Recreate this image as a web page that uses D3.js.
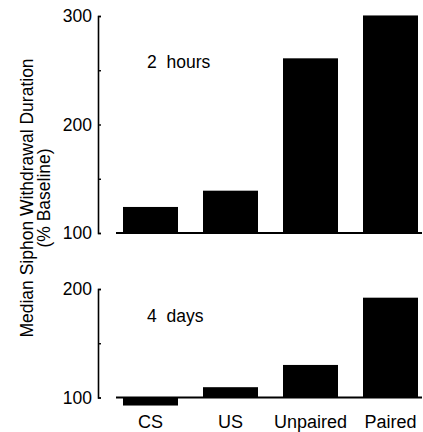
<!DOCTYPE html>
<html>
<head>
<meta charset="utf-8">
<script src="https://cdn.jsdelivr.net/npm/d3@7"></script>
<style>
  html, body { margin: 0; padding: 0; background: #fff; }
  svg { display: block; }
  text { font-family: "Liberation Sans", Arial, sans-serif; fill: #000; }
</style>
</head>
<body>
<svg id="chart" width="423" height="432"></svg>
<script>
// ---- data ----
const categories = ["CS", "US", "Unpaired", "Paired"];
const hours2Values = [124, 139, 261, 300.5];
const days4Values = [92.6, 109.5, 130, 192];
const hours2Ticks = [100, 150, 200, 250, 300];
const days4Ticks = [100, 150, 200];
const majorTickLabels = [100, 200, 300];
const panelTitles = ["2 hours", "4 days"];
const yAxisTitle = ["Median Siphon Withdrawal Duration", "(% Baseline)"];

const svg = d3.select("#chart");

const x = d3.scaleBand()
  .domain(categories)
  .range([123, 418])
  .paddingInner(0.3125)
  .paddingOuter(0);

const panels = [
  { values: hours2Values, ticks: hours2Ticks, domain: [100, 300], range: [233, 16], title: panelTitles[0], titleY: 68 },
  { values: days4Values, ticks: days4Ticks, domain: [100, 200], range: [397.5, 289], title: panelTitles[1], titleY: 322 }
];

const axisX = 98;

panels.forEach(p => {
  const y = d3.scaleLinear().domain(p.domain).range(p.range);
  const g = svg.append("g");

  // axis
  const axis = d3.axisLeft(y)
    .tickValues(p.ticks)
    .tickSize(-3)
    .tickSizeOuter(-3)
    .tickPadding(6)
    .tickFormat(d => majorTickLabels.includes(d) ? d : "");
  const ag = g.append("g")
    .attr("transform", `translate(${axisX},0)`)
    .call(axis);
  ag.select(".domain").attr("stroke", "#000").attr("stroke-width", 1.6);
  ag.selectAll(".tick line").attr("stroke", "#000").attr("stroke-width", 1.4);
  ag.selectAll(".tick text")
    .attr("font-size", 17.5)
    .attr("font-family", "'Liberation Sans', Arial, sans-serif")
    .attr("fill", "#000");

  // bars
  g.selectAll("rect.bar")
    .data(p.values)
    .join("rect")
    .attr("class", "bar")
    .attr("x", (d, i) => x(categories[i]))
    .attr("width", x.bandwidth())
    .attr("y", d => Math.min(y(d), y(100)))
    .attr("height", d => Math.abs(y(d) - y(100)))
    .attr("fill", "#000");

  // baseline
  g.append("line")
    .attr("x1", 116).attr("x2", 422)
    .attr("y1", y(100)).attr("y2", y(100))
    .attr("stroke", "#000").attr("stroke-width", 2);

  // panel title
  g.append("text")
    .attr("x", 147)
    .attr("y", p.titleY)
    .attr("font-size", 17.5)
    .attr("xml:space", "preserve")
    .style("white-space", "pre")
    .text(p.title.replace(" ", "  "));
});

// category labels
svg.append("g").selectAll("text")
  .data(categories)
  .join("text")
  .attr("x", d => x(d) + x.bandwidth() / 2)
  .attr("y", 428)
  .attr("text-anchor", "middle")
  .attr("font-size", 18)
  .text(d => d);

// y axis title
const yt = svg.append("g").attr("transform", "translate(0,198) rotate(-90)");
yt.append("text")
  .attr("x", 0).attr("y", 33)
  .attr("text-anchor", "middle")
  .attr("font-size", 17.5)
  .text(yAxisTitle[0]);
yt.append("text")
  .attr("x", 0).attr("y", 50)
  .attr("text-anchor", "middle")
  .attr("font-size", 17.5)
  .text(yAxisTitle[1]);
</script>
</body>
</html>
